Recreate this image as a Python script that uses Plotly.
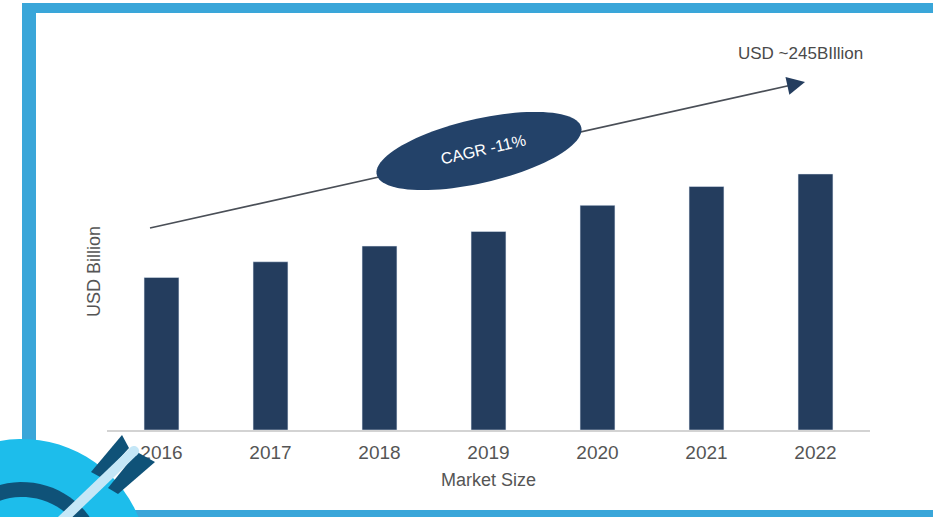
import numpy as np
import plotly.graph_objects as go

years = ["2016", "2017", "2018", "2019", "2020", "2021", "2022"]
market_size = [146, 161, 176, 190, 215, 233, 245]
y_axis_title = "USD Billion"
x_axis_title = "Market Size"
cagr_label = "CAGR -11%"
end_label = "USD ~245BIllion"

W, H = 933, 517
L, R, T, B = 107, 870, 12, 430


def px(x):
    return (x - L) / (R - L)


def py(y):
    return (B - y) / (B - T)


NAVY = "#243d5e"
FRAME = "#3aa6d9"
CYAN = "#1dbdeb"
DARK = "#0f5278"
LIGHT = "#c5e7f7"
FONT = "Liberation Sans, Arial"

fig = go.Figure(go.Bar(x=years, y=market_size, marker_color=NAVY, width=0.32))

shapes = []
# frame
shapes.append(dict(type="rect", xref="paper", yref="paper", x0=px(22), x1=px(940), y0=py(3), y1=py(13),
                   fillcolor=FRAME, line_width=0, layer="below"))
shapes.append(dict(type="rect", xref="paper", yref="paper", x0=px(22), x1=px(36), y0=py(3), y1=py(520),
                   fillcolor=FRAME, line_width=0, layer="below"))
shapes.append(dict(type="rect", xref="paper", yref="paper", x0=px(22), x1=px(940), y0=py(510), y1=py(520),
                   fillcolor=FRAME, line_width=0, layer="below"))


def circle_path(cx, cy, r, n=80):
    t = np.linspace(0, 2 * np.pi, n)
    xs = cx + r * np.cos(t)
    ys = cy + r * np.sin(t)
    return "M " + " L ".join(f"{px(a):.5f},{py(b):.5f}" for a, b in zip(xs, ys)) + " Z"


def poly_path(pts):
    return "M " + " L ".join(f"{px(a):.5f},{py(b):.5f}" for a, b in pts) + " Z"


# target decoration
cx, cy = 22, 565
shapes.append(dict(type="path", xref="paper", yref="paper", path=circle_path(cx, cy, 126),
                   fillcolor=CYAN, line_width=0, layer="above"))
shapes.append(dict(type="path", xref="paper", yref="paper", path=circle_path(cx, cy, 83),
                   fillcolor=DARK, line_width=0, layer="above"))
shapes.append(dict(type="path", xref="paper", yref="paper", path=circle_path(cx, cy, 68),
                   fillcolor=CYAN, line_width=0, layer="above"))
shapes.append(dict(type="path", xref="paper", yref="paper",
                   path=poly_path([(122, 435), (129, 448), (102, 478), (91, 472)]),
                   fillcolor=DARK, line_width=0, layer="above"))
shapes.append(dict(type="path", xref="paper", yref="paper",
                   path=poly_path([(137, 452), (155, 462), (118, 494), (108, 488)]),
                   fillcolor=DARK, line_width=0, layer="above"))
shapes.append(dict(type="line", xref="paper", yref="paper", x0=px(60), y0=py(522), x1=px(134), y1=py(451),
                   line=dict(color=LIGHT, width=10), layer="above"))
shapes.append(dict(type="path", xref="paper", yref="paper", path=circle_path(134, 451, 5),
                   fillcolor=LIGHT, line_width=0, layer="above"))

# growth arrow line
shapes.append(dict(type="line", xref="paper", yref="paper", x0=px(150), y0=py(228), x1=px(795), y1=py(84.2),
                   line=dict(color="#4a4f57", width=1.6), layer="above"))

# CAGR ellipse
ecx, ecy, a, b, th = 479, 151, 105, 32, np.deg2rad(13)
t = np.linspace(0, 2 * np.pi, 100)
ex = ecx + a * np.cos(t) * np.cos(th) + b * np.sin(t) * np.sin(th)
ey = ecy - a * np.cos(t) * np.sin(th) + b * np.sin(t) * np.cos(th)
shapes.append(dict(type="path", xref="paper", yref="paper",
                   path="M " + " L ".join(f"{px(u):.5f},{py(v):.5f}" for u, v in zip(ex, ey)) + " Z",
                   fillcolor="#234269", line_width=0, layer="above"))

annotations = [
    dict(x=px(805), y=py(82), xref="paper", yref="paper", ax=-14, ay=3.1, axref="pixel", ayref="pixel",
         showarrow=True, arrowhead=2, arrowsize=1.2, arrowwidth=3, arrowcolor=NAVY, text=""),
    dict(x=px(483), y=py(150), xref="paper", yref="paper", text=cagr_label, showarrow=False, textangle=-13,
         xanchor="center", yanchor="middle",
         font=dict(family=FONT, size=16, color="white")),
    dict(x=px(800), y=py(54), xref="paper", yref="paper", text=end_label, showarrow=False,
         xanchor="center", yanchor="middle",
         font=dict(family=FONT, size=17, color="#4a4a4a")),
    dict(x=px(94), y=py(272), xref="paper", yref="paper", text=y_axis_title, showarrow=False, textangle=-90,
         xanchor="center", yanchor="middle",
         font=dict(family=FONT, size=18, color="#555555")),
    dict(x=px(488), y=py(480), xref="paper", yref="paper", text=x_axis_title, showarrow=False,
         xanchor="center", yanchor="middle",
         font=dict(family=FONT, size=18, color="#555555")),
]

fig.update_layout(
    width=W, height=H,
    margin=dict(l=L, r=W - R, t=T, b=H - B, pad=0),
    paper_bgcolor="white", plot_bgcolor="white",
    showlegend=False,
    shapes=shapes, annotations=annotations,
    xaxis=dict(showgrid=False, showline=True, linecolor="#d3d3d3", linewidth=1.5,
               ticks="outside", ticklen=4, tickcolor="rgba(0,0,0,0)",
               tickfont=dict(family=FONT, size=19, color="#555555")),
    yaxis=dict(range=[0, 400], showgrid=False, showticklabels=False, zeroline=False, showline=False),
)

fig.write_html("out.html", config={"displayModeBar": False},
               post_script="document.body.style.margin='0';document.body.style.overflow='hidden';")
